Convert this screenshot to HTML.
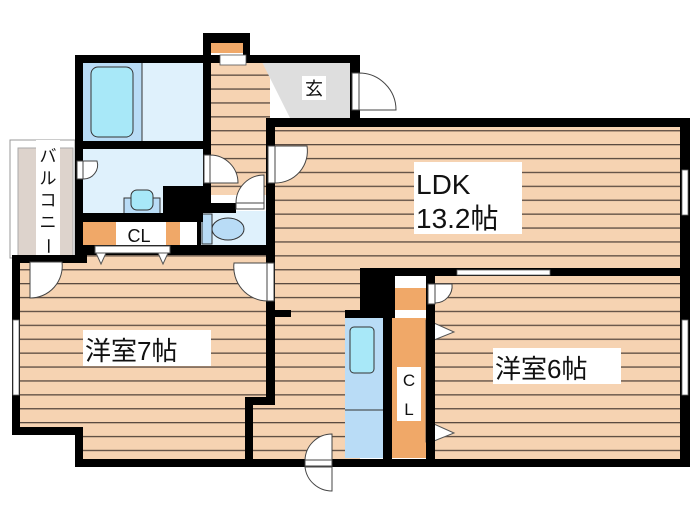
<!DOCTYPE html>
<html><head><meta charset="utf-8"><style>
html,body{margin:0;padding:0;background:#fff;width:700px;height:525px;overflow:hidden}
svg{display:block}
text{font-family:"Liberation Sans","Noto Sans CJK JP",sans-serif;fill:#111}
</style></head><body>
<svg width="700" height="525" viewBox="0 0 700 525" xmlns="http://www.w3.org/2000/svg">
<defs>
<pattern id="wood" width="10" height="13.9" patternUnits="userSpaceOnUse" y="5">
<rect width="10" height="13.9" fill="#f6d3b2"/>
<rect y="0" width="10" height="1.3" fill="#5a4a40"/>
</pattern>
</defs>
<!-- balcony -->
<rect x="10" y="140" width="65" height="118" fill="#fff" stroke="#999" stroke-width="1"/>
<rect x="18" y="148" width="55" height="110" fill="#ddd3cc" stroke="#aaa" stroke-width="1"/>
<rect x="36" y="140" width="24" height="122" fill="#fff"/>
<text x="48" y="162" font-size="17" text-anchor="middle">バ</text>
<text x="48" y="184" font-size="17" text-anchor="middle">ル</text>
<text x="48" y="206" font-size="17" text-anchor="middle">コ</text>
<text x="48" y="228" font-size="17" text-anchor="middle">ニ</text>
<text x="48" y="252" font-size="17" text-anchor="middle" transform="rotate(90 48 246)">ー</text>

<!-- wood floors -->
<rect x="205" y="60" width="65" height="135" fill="url(#wood)"/>
<rect x="266" y="118" width="420" height="152" fill="url(#wood)"/>
<rect x="15" y="255" width="255" height="175" fill="url(#wood)"/>
<rect x="80" y="395" width="175" height="68" fill="url(#wood)"/>
<rect x="250" y="260" width="110" height="200" fill="url(#wood)"/>
<rect x="430" y="272" width="255" height="190" fill="url(#wood)"/>
<rect x="266" y="200" width="100" height="120" fill="url(#wood)"/>

<!-- genkan -->
<polygon points="262,62 352,62 352,118 290,118" fill="#dedede"/>
<rect x="302" y="76" width="24" height="24" fill="#fff"/>
<text x="314" y="95" font-size="18" text-anchor="middle">玄</text>

<!-- bath -->
<rect x="82" y="62" width="122" height="80" fill="#dff1fc"/>
<rect x="82" y="62" width="60" height="80" fill="#b9dcf6"/>
<rect x="91" y="67" width="42" height="70" rx="7" fill="#a8e8f8" stroke="#333" stroke-width="1"/>
<line x1="142" y1="62" x2="142" y2="142" stroke="#333" stroke-width="1"/>
<!-- washroom -->
<rect x="82" y="148" width="122" height="66" fill="#dff1fc"/>
<rect x="163" y="186" width="45" height="30" fill="#000"/>
<rect x="124" y="198" width="36" height="16" fill="#b9dcf6" stroke="#333" stroke-width="1"/>
<rect x="131" y="190" width="22" height="20" rx="6" fill="#a8e8f8" stroke="#333" stroke-width="1"/>
<!-- toilet -->
<rect x="200" y="211" width="66" height="35" fill="#dff1fc"/>
<rect x="202" y="214" width="10" height="30" fill="#b9dcf6" stroke="#333" stroke-width="1"/>
<ellipse cx="228" cy="229" rx="16" ry="11" fill="#b9dcf6" stroke="#333" stroke-width="1"/>

<!-- CL near washroom -->
<rect x="82" y="222" width="98" height="24" fill="#f0a868"/>
<rect x="116" y="222" width="50" height="24" fill="#fff"/>
<text x="139" y="242" font-size="18" text-anchor="middle">CL</text>

<!-- fridge / CL -->
<rect x="345" y="318" width="38" height="140" fill="#b9dcf6"/>
<rect x="350" y="327" width="24" height="46" rx="4" fill="#a8e8f8" stroke="#333"/>
<line x1="345" y1="410" x2="383" y2="410" stroke="#333"/>
<rect x="392" y="288" width="34" height="22" fill="#f0a868"/>
<rect x="392" y="318" width="34" height="140" fill="#f0a868"/>
<rect x="397" y="367" width="24" height="54" fill="#fff"/>
<text x="409" y="386" font-size="17" text-anchor="middle">C</text>
<text x="409" y="415" font-size="17" text-anchor="middle">L</text>
<rect x="426" y="320" width="8" height="122" fill="#fff" stroke="#555"/>
<polygon points="434,323 434,340 454,332" fill="#fff" stroke="#555"/>
<polygon points="434,424 434,441 454,433" fill="#fff" stroke="#555"/>

<!-- walls -->
<g fill="#000">
<rect x="203" y="33" width="47" height="10"/>
<rect x="203" y="33" width="8" height="30"/>
<rect x="243" y="33" width="7" height="30"/>
<rect x="75" y="55" width="285" height="8"/>
<rect x="350" y="55" width="10" height="72"/>
<rect x="75" y="55" width="8" height="200"/>
<rect x="203" y="55" width="8" height="158"/>
<rect x="75" y="141" width="135" height="8"/>
<rect x="266" y="118" width="424" height="9"/>
<rect x="680" y="118" width="10" height="349"/>
<rect x="266" y="118" width="9" height="287"/>
<rect x="75" y="213" width="128" height="9"/>
<rect x="200" y="203" width="36" height="10"/>
<rect x="197" y="213" width="4" height="33"/>
<rect x="75" y="245" width="200" height="10"/>
<rect x="12" y="255" width="75" height="8"/>
<rect x="12" y="255" width="8" height="180"/>
<rect x="12" y="427" width="71" height="8"/>
<rect x="75" y="427" width="8" height="40"/>
<rect x="75" y="459" width="615" height="8"/>
<rect x="245" y="397" width="28" height="8"/>
<rect x="245" y="397" width="8" height="70"/>
<rect x="273" y="310" width="18" height="7"/>
<rect x="360" y="268" width="330" height="8"/>
<rect x="360" y="268" width="35" height="42"/>
<rect x="345" y="310" width="50" height="8"/>
<rect x="383" y="268" width="9" height="199"/>
<rect x="426" y="268" width="9" height="199"/>
</g>
<!-- CL door strip -->
<rect x="95" y="246" width="75" height="7" fill="#fff" stroke="#555" stroke-width="1"/>
<polygon points="96,253 106,253 101,264" fill="#fff" stroke="#555"/>
<polygon points="158,253 168,253 163,264" fill="#fff" stroke="#555"/>
<!-- entry box orange -->
<rect x="211" y="43" width="32" height="10" fill="#f0a868"/>
<rect x="220" y="55" width="26" height="10" fill="#fff" stroke="#555" stroke-width="0.8"/>

<!-- windows -->
<rect x="457" y="270" width="93" height="5" fill="#fff" stroke="#666" stroke-width="0.8"/>
<rect x="682" y="170" width="6" height="45" fill="#fff" stroke="#666" stroke-width="0.8"/>
<rect x="682" y="320" width="6" height="75" fill="#fff" stroke="#666" stroke-width="0.8"/>
<rect x="13" y="320" width="6" height="75" fill="#fff" stroke="#666" stroke-width="0.8"/>

<!-- doors -->
<g fill="#fff" stroke="#444" stroke-width="1">
<rect x="352" y="73" width="7" height="37"/>
<path d="M359,73 A37,37 0 0 1 396,110 L359,110 Z"/>
<rect x="268" y="146" width="7" height="37"/>
<path d="M275,146 L307,146 A32,32 0 0 1 275,183 Z"/>
<rect x="77" y="161" width="6" height="18"/>
<path d="M83,161 L97,161 A14,14 0 0 1 83,179 Z"/>
<rect x="204" y="155" width="6" height="28"/>
<path d="M210,155 A28,28 0 0 1 238,183 L210,183 Z"/>
<rect x="236" y="203" width="28" height="6"/>
<path d="M236,203 A28,28 0 0 1 264,175 L264,203 Z"/>
<path d="M30,262 L62,262 A32,32 0 0 1 30,298 Z"/>
<rect x="267" y="263" width="7" height="38"/>
<path d="M267,263 L234,263 A34,34 0 0 0 267,301 Z"/>
<rect x="428" y="284" width="7" height="20"/>
<path d="M435,284 L452,284 A17,17 0 0 1 435,303 Z"/>
<rect x="305" y="460" width="27" height="6"/>
<path d="M332,434 A27,27 0 0 0 305,460 L332,460 Z"/>
<path d="M332,467 L305,467 A27,27 0 0 0 332,491 Z"/>
</g>

<!-- labels -->
<rect x="414" y="162" width="108" height="72" fill="#fff"/>
<text x="416" y="194" font-size="28">LDK</text>
<text x="416" y="228" font-size="28">13.2帖</text>
<rect x="83" y="330" width="128" height="36" fill="#fff"/>
<text x="85" y="360" font-size="26">洋室7帖</text>
<rect x="493" y="348" width="128" height="36" fill="#fff"/>
<text x="495" y="378" font-size="26">洋室6帖</text>
</svg>
</body></html>
